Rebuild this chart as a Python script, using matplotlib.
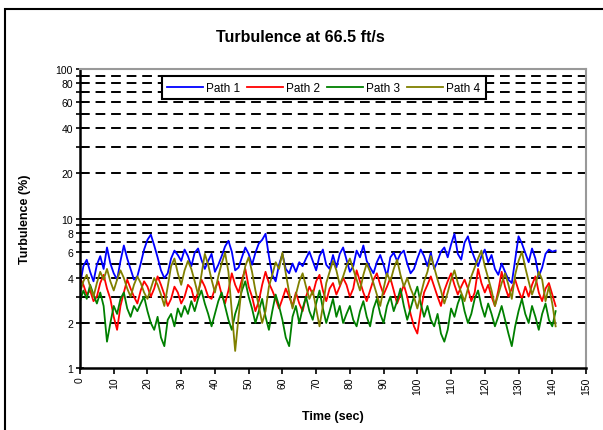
import numpy as np
import matplotlib.pyplot as plt
from matplotlib.patches import Rectangle
from matplotlib.ticker import FixedLocator, NullFormatter

plt.rcParams['font.family'] = ['Liberation Sans', 'DejaVu Sans']

# Turbulence readings (%) sampled once per second
time_s = list(range(0, 142))

path1 = [3.6, 4.8, 5.3, 4.4, 3.8, 4.9, 5.6, 4.6, 6.4, 5.0,
         4.3, 3.9, 5.2, 6.6, 5.4, 4.6, 3.9, 4.1, 5.0, 6.2,
         7.2, 7.8, 6.6, 5.5, 4.5, 4.0, 4.3, 5.4, 6.1, 5.7,
         5.2, 6.2, 5.6, 4.8, 5.9, 6.3, 5.3, 4.6, 5.2, 5.8,
         4.4, 4.9, 5.6, 6.5, 7.1, 6.0, 4.5, 4.7, 5.5, 6.4,
         5.8, 4.9, 5.9, 6.8, 7.2, 7.9, 5.6, 4.2, 3.8, 4.9,
         5.8, 4.6, 4.3, 5.0, 4.4, 5.1, 4.8, 5.4, 6.0, 5.2,
         4.5, 5.6, 6.2, 4.9, 4.6, 5.7, 4.7, 5.8, 6.4, 5.3,
         4.4, 4.8, 6.1, 5.5, 6.6, 5.2, 4.7, 4.3, 5.1, 5.7,
         4.9, 4.1, 5.5, 5.9, 5.2, 5.8, 6.1, 5.0, 4.3, 4.6,
         5.4, 6.2, 5.6, 4.8, 5.9, 4.6, 5.2, 6.0, 6.4, 5.5,
         6.7, 7.9, 5.8, 5.3, 6.9, 7.6, 6.2, 5.4, 4.8, 5.6,
         6.2, 5.1, 5.7, 4.6, 4.2, 5.0, 4.4, 3.9, 3.7, 5.3,
         7.6, 6.8, 5.9, 5.1, 6.3, 5.4, 4.1, 4.7, 5.8, 6.2,
         6.0, 6.1]

path2 = [4.0, 3.6, 3.1, 3.3, 2.8, 3.0, 3.7, 4.2, 3.4, 2.9,
         2.2, 1.8, 2.6, 3.2, 3.9, 3.4, 3.0, 2.7, 3.3, 3.8,
         3.5, 3.0, 3.4, 4.1, 3.6, 3.1, 2.6, 2.9, 3.5, 3.2,
         2.7, 3.0, 3.6, 3.4, 2.8, 3.2, 3.9, 3.5, 3.0, 2.9,
         3.4, 3.8, 3.1, 2.7, 3.3, 4.3, 3.6, 3.2, 3.9, 4.6,
         3.5, 3.0, 2.4, 2.8, 3.6, 4.4, 3.7, 3.3, 2.9, 2.5,
         2.9, 3.4, 3.0, 2.6, 3.2, 2.7, 2.4, 3.0, 3.5, 3.1,
         3.8, 4.2, 3.3, 2.8, 3.4, 3.7, 3.1, 3.5, 4.0, 3.6,
         3.0, 3.4, 4.5, 3.8, 3.2, 2.8, 3.3, 3.9, 4.3, 3.6,
         3.1, 3.5, 4.0, 3.3, 2.7, 3.1, 3.6, 3.0, 2.3, 1.9,
         1.7, 2.4, 3.2, 3.6, 4.1, 3.5, 3.0, 2.6, 3.3, 3.8,
         4.3, 3.6, 3.1, 3.5, 3.9, 3.4, 2.8, 3.2, 4.6, 3.7,
         3.2, 3.6, 3.0, 2.6, 3.3, 4.4, 3.5, 3.0, 3.4, 3.9,
         3.3, 2.9, 3.5, 3.0, 3.6, 4.1, 3.2, 2.8, 3.4, 3.7,
         3.1, 2.6]

path3 = [2.8, 3.3, 2.9, 3.6, 3.1, 2.7, 3.2, 2.6, 1.5, 2.0,
         2.6, 2.3, 2.9, 3.2, 2.5, 2.2, 2.6, 2.4, 2.7, 3.0,
         2.4, 2.0, 1.8, 2.2, 1.6, 1.4, 2.1, 2.3, 1.9, 2.5,
         2.2, 2.6, 2.3, 2.8, 2.4, 2.9, 3.3, 2.7, 2.3, 1.9,
         2.3, 2.8, 3.2, 2.6, 2.1, 1.8, 2.3, 2.7, 3.3, 3.8,
         3.0, 2.5, 2.0, 2.4, 2.9, 2.2, 1.8, 2.4, 3.1, 2.6,
         2.1, 1.6, 1.4, 2.2, 2.6, 2.0, 2.5, 3.0, 2.4, 2.1,
         2.7, 3.3, 2.5, 2.0, 2.4, 2.9, 2.2, 2.6, 2.0, 2.3,
         2.6, 2.1, 1.9, 2.4, 2.8, 2.2, 1.9, 2.5, 2.9, 2.3,
         2.0, 2.6, 3.0, 2.4, 2.8, 3.4, 2.6, 2.1, 2.5, 3.0,
         3.5, 2.7, 2.2, 2.6, 2.1, 1.9, 2.3, 1.7, 1.5, 1.8,
         2.5, 2.2, 2.7, 3.1, 2.4, 2.0, 2.3, 2.9, 3.3, 2.6,
         2.2, 2.7, 2.3, 1.9, 2.2, 2.6, 2.1, 1.7, 1.4, 1.9,
         2.4, 2.9, 2.3, 2.0, 2.6, 2.2, 1.8, 2.3, 2.7, 2.1,
         1.9, 2.4]

path4 = [3.2, 3.8, 4.2, 3.5, 3.0, 3.7, 4.4, 3.9, 4.6, 3.8,
         3.3, 3.9, 4.5, 4.0, 3.4, 3.0, 3.6, 4.1, 3.7, 3.2,
         2.9, 3.4, 4.0, 3.6, 3.1, 2.6, 3.5, 4.8, 5.4, 4.3,
         3.6, 4.5, 5.2, 4.6, 3.8, 3.1, 4.2, 5.8, 4.9, 3.9,
         3.2, 4.1, 5.0, 5.9, 4.4, 2.4, 1.3, 2.2, 3.6, 4.8,
         5.5, 4.4, 3.3, 2.6, 2.0, 2.4, 3.5, 4.2, 5.1, 4.6,
         5.9, 4.3, 3.2, 2.5, 3.1, 3.8, 4.3, 3.5, 2.9, 3.3,
         2.5, 1.9, 2.6, 3.7, 4.4, 5.2, 4.5, 3.6, 4.1, 4.8,
         5.4, 4.6, 3.9, 3.3, 4.2, 5.0, 4.4, 3.7, 3.1, 2.6,
         3.4, 4.3, 3.8, 4.6, 5.3, 4.2, 3.5, 4.0, 3.4, 3.0,
         2.5, 3.1, 3.8, 4.4, 5.6, 4.7, 3.9, 3.3, 2.7, 3.2,
         3.9, 4.5, 3.7, 3.2, 2.8, 3.4, 4.1, 4.7, 5.4, 6.1,
         4.8, 4.0, 3.3, 2.6, 3.1, 3.7, 4.3, 3.6, 2.9, 4.2,
         5.2, 6.0, 4.7, 3.8, 3.1, 3.6, 4.4, 3.9, 2.8, 3.5,
         2.7, 1.9]

series = [("Path 1", path1, "#0000ff"),
          ("Path 2", path2, "#ff0000"),
          ("Path 3", path3, "#008000"),
          ("Path 4", path4, "#808000")]

y_labels = [1, 2, 4, 6, 8, 10, 20, 40, 60, 80, 100]
x_ticks = list(range(0, 151, 10))

W, H = 603, 431
fig = plt.figure(figsize=(W / 100, H / 100), dpi=100)

# outer chart frame
fig.patches.append(Rectangle((5 / W, -0.01), 1.0, (H - 10) / H + 0.01,
                             transform=fig.transFigure, fill=False,
                             edgecolor="black", linewidth=1.5))

ax = fig.add_axes([80 / W, (H - 369) / H, (586 - 80) / W, (369 - 70) / H])

for name, vals, col in series:
    ax.plot(time_s, vals, color=col, linewidth=1.3, label=name)

ax.set_yscale("log")
ax.set_ylim(1, 100)
ax.set_xlim(0, 150)

# dashed gridlines at every minor decade step, solid at 10
grid_vals = [v * d for d in (1, 10) for v in range(2, 10)]
for g in grid_vals:
    ax.axhline(g, color="black", linestyle=(0, (5, 3)), linewidth=1.4, zorder=0)
ax.axhline(10, color="black", linewidth=1.4, zorder=0)

ax.yaxis.set_major_locator(FixedLocator([1, 10, 100]))
ax.yaxis.set_minor_locator(FixedLocator(grid_vals))
ax.yaxis.set_minor_formatter(NullFormatter())
ax.set_yticks(y_labels)
ax.set_yticklabels([str(v) for v in y_labels], fontsize=7.5)
ax.set_xticks(x_ticks)
ax.set_xticklabels([str(v) for v in x_ticks], rotation=90, fontsize=7.5)
ax.tick_params(axis="both", which="both", direction="in", length=3, width=1.2, pad=2)
ax.tick_params(axis="y", which="both", direction="inout", length=6)
ax.tick_params(axis="x", direction="out", length=4)

for side in ("left", "bottom"):
    ax.spines[side].set_linewidth(1.8)
for side in ("top", "right"):
    ax.spines[side].set_color("#999999")
    ax.spines[side].set_linewidth(1.5)

fig.text(300 / W, 1 - 37 / H, "Turbulence at 66.5 ft/s", ha="center", va="center",
         fontsize=11.5, fontweight="bold")
ax.set_xlabel("Time (sec)", fontsize=9, fontweight="bold", labelpad=12)
ax.set_ylabel("Turbulence (%)", fontsize=9, fontweight="bold", labelpad=18)

leg = ax.legend(loc="upper center", bbox_to_anchor=(0.482, 0.995), ncol=4,
                fontsize=8.5, frameon=True, fancybox=False, handlelength=3.0,
                columnspacing=0.6, handletextpad=0.3, borderpad=0.45)
leg.get_frame().set_edgecolor("black")
leg.get_frame().set_linewidth(1.5)
leg.get_frame().set_alpha(1)

fig.savefig("out.png", dpi=100)
